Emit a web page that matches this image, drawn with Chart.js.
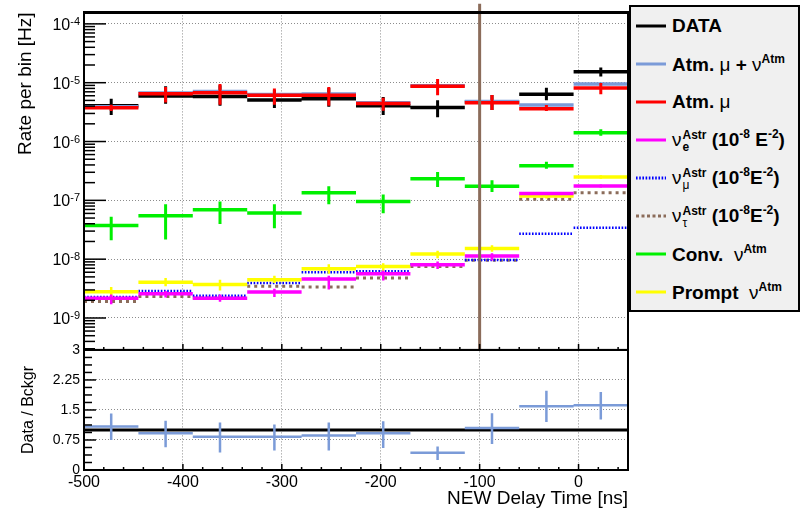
<!DOCTYPE html>
<html>
<head>
<meta charset="utf-8">
<title>Rate per bin vs delay time</title>
<script src="https://cdn.jsdelivr.net/npm/chart.js@4.4.1/dist/chart.umd.min.js"></script>
<style>
  body { margin: 0; background: #fff; }
  #box { position: relative; width: 801px; height: 510px; overflow: hidden; }
  #legend { position: absolute; left: 629px; top: 5px; width: 171px; height: 307px; box-sizing: border-box;
    background: #f0f0f0; border: 2px solid #000; color: #000;
    font: bold 19px "Liberation Sans", Arial, sans-serif; }
  .row { position: absolute; left: 0; height: 38px; display: flex; align-items: center; white-space: nowrap; }
  .row svg { margin: 0 6px 0 5px; flex: none; }
  .g { font-weight: normal; }
  .sp { font-size: 12px; vertical-align: 8px; }
  .st { display: inline-block; font-size: 12px; line-height: 12px; vertical-align: middle; margin-left: 1px; }
</style>
</head>
<body>
<div id="box">
  <canvas id="canvas" width="801" height="510"></canvas>
  <div id="legend"></div>
</div>
<script>
// bins (ns)
const binEdges = [-500, -445, -390, -335, -280, -225, -170, -115, -60, -5, 50];
const cutTime = -100;

// rates [Hz]
const dataRate  = [4.05e-6, 5.94e-6, 5.83e-6, 5.09e-6, 5.36e-6, 4.05e-6, 3.79e-6, 4.72e-6, 6.35e-6, 1.54e-5];
const dataLow   = [2.83e-6, 4.37e-6, 4.05e-6, 3.70e-6, 3.89e-6, 2.83e-6, 2.58e-6, 3.43e-6, 5.04e-6, 1.28e-5];
const dataHigh  = [5.36e-6, 8.74e-6, 9.08e-6, 7.49e-6, 8.10e-6, 5.72e-6, 5.04e-6, 6.18e-6, 8.18e-6, 1.82e-5];
const atmMuNu   = [3.89e-6, 6.67e-6, 7.07e-6, 6.30e-6, 6.42e-6, 4.54e-6, 8.91e-6, 4.78e-6, 4.16e-6, 9.55e-6];
const atmMu     = [3.75e-6, 6.50e-6, 6.75e-6, 6.11e-6, 6.11e-6, 4.42e-6, 8.74e-6, 4.54e-6, 3.61e-6, 8.10e-6];
const atmMuLow  = [3.31e-6, 4.59e-6, 4.21e-6, 4.21e-6, 4.05e-6, 3.34e-6, 6.11e-6, 3.43e-6, 3.31e-6, 6.35e-6];
const atmMuHigh = [4.20e-6, 8.41e-6, 9.55e-6, 8.00e-6, 8.41e-6, 5.57e-6, 1.16e-5, 6.18e-6, 4.16e-6, 9.93e-6];
const nuE       = [2.16e-9, 2.59e-9, 2.16e-9, 2.76e-9, 4.61e-9, 5.66e-9, 8.00e-9, 1.13e-8, 1.31e-7, 1.75e-7];
const nuELow    = [1.71e-9, 2.22e-9, 1.88e-9, 2.28e-9, 3.05e-9, 4.32e-9, 6.78e-9, 9.48e-9, 1.24e-7, 1.66e-7];
const nuEHigh   = [2.52e-9, 2.87e-9, 2.52e-9, 3.14e-9, 5.24e-9, 6.44e-9, 9.12e-9, 1.26e-8, 1.39e-7, 1.86e-7];
const nuMu      = [2.28e-9, 2.87e-9, 2.40e-9, 3.95e-9, 5.97e-9, 6.21e-9, 8.22e-9, 9.70e-9, 2.71e-8, 3.41e-8];
const nuTau     = [1.90e-9, 2.31e-9, 2.18e-9, 3.45e-9, 3.35e-9, 4.80e-9, 7.52e-9, 9.59e-9, 1.04e-7, 1.35e-7];
const convNu    = [3.73e-8, 5.48e-8, 6.91e-8, 6.08e-8, 1.35e-7, 9.55e-8, 2.32e-7, 1.74e-7, 3.86e-7, 1.41e-6];
const convLow   = [2.09e-8, 2.15e-8, 3.98e-8, 3.37e-8, 8.61e-8, 6.01e-8, 1.68e-7, 1.38e-7, 3.44e-7, 1.25e-6];
const convHigh  = [5.27e-8, 8.61e-8, 9.55e-8, 8.61e-8, 1.74e-7, 1.26e-7, 3.03e-7, 2.19e-7, 4.51e-7, 1.61e-6];
const promptNu  = [2.79e-9, 4.06e-9, 3.70e-9, 4.49e-9, 6.86e-9, 7.52e-9, 1.22e-8, 1.52e-8, 1.19e-7, 2.50e-7];
const promptLow = [2.22e-9, 3.48e-9, 2.94e-9, 3.95e-9, 5.66e-9, 6.21e-9, 1.04e-8, 1.34e-8, 1.08e-7, 2.34e-7];
const promptHigh= [3.35e-9, 4.80e-9, 4.49e-9, 5.24e-9, 8.22e-9, 8.53e-9, 1.39e-8, 1.73e-8, 1.29e-7, 2.68e-7];

// data / background
const ratio     = [1.09, 0.92, 0.83, 0.83, 0.86, 0.92, 0.43, 1.05, 1.59, 1.62];
const ratioLow  = [0.75, 0.57, 0.44, 0.49, 0.49, 0.55, 0.25, 0.65, 1.20, 1.26];
const ratioHigh = [1.41, 1.23, 1.19, 1.14, 1.19, 1.22, 0.59, 1.42, 1.98, 1.95];
const unity = 1;

// axis ranges
const yMin = 2.864e-10, yMax = 1.567e-4, yTop = 2.2e-4;
const rMin = 0, rMax = 3, rStep = 0.75;

const binCenters = binEdges.slice(0, -1).map((e, i) => (e + binEdges[i + 1]) / 2);

function steps(vals) {
  const pts = [];
  vals.forEach((v, i) => {
    pts.push({x: binEdges[i], y: v}, {x: binEdges[i + 1], y: v}, {x: binEdges[i + 1], y: null});
  });
  return pts;
}
function errs(lo, hi) {
  const pts = [];
  binCenters.forEach((c, i) => {
    pts.push({x: c, y: lo[i]}, {x: c, y: hi[i]}, {x: c, y: null});
  });
  return pts;
}
const common = {pointRadius: 0, pointHoverRadius: 0, fill: false, tension: 0, spanGaps: false, borderCapStyle: 'butt'};
function line(data, color, width, extra) {
  return Object.assign({data: data, borderColor: color, borderWidth: width, yAxisID: 'y'}, common, extra || {});
}

const BLACK = '#000000', LBLUE = '#7b9bd8', RED = '#ff0000', MAG = '#ff00ff',
      BLUE = '#0000ff', BROWN = '#8b6c5a', GREEN = '#00f000', YEL = '#ffff00';

const datasets = [
  line([{x: cutTime, y: yMin}, {x: cutTime, y: yTop}], BROWN, 3, {clip: false}),
  line(errs(ratioLow, ratioHigh), LBLUE, 2.5, {yAxisID: 'y2'}),
  line(steps(ratio), LBLUE, 2.5, {yAxisID: 'y2'}),
  line([{x: binEdges[0], y: unity}, {x: binEdges[binEdges.length - 1], y: unity}], BLACK, 3, {yAxisID: 'y2'}),
  line(errs(atmMuLow, atmMuHigh), RED, 3),
  line(steps(atmMu), RED, 3.5, {legendHtml: 'Atm. <span class="g">μ</span>', legendIndex: 2}),
  line(steps(atmMuNu), LBLUE, 3.5, {legendHtml: 'Atm. <span class="g">μ</span> + <span class="g">ν</span><span class="sp">Atm</span>', legendIndex: 1}),
  line(errs(dataLow, dataHigh), BLACK, 3),
  line(steps(dataRate), BLACK, 3.5, {legendHtml: 'DATA', legendIndex: 0}),
  line(errs(convLow, convHigh), GREEN, 3),
  line(steps(convNu), GREEN, 3.5, {legendHtml: 'Conv.&nbsp; <span class="g">ν</span><span class="sp">Atm</span>', legendIndex: 6}),
  line(errs(nuELow, nuEHigh), MAG, 2.5),
  line(steps(nuE), MAG, 3.5, {legendHtml: '<span class="g">ν</span><span class="st">Astr<br>e</span> (10<span class="sp">-8</span> E<span class="sp">-2</span>)', legendIndex: 3}),
  line(errs(promptLow, promptHigh), YEL, 2.5),
  line(steps(promptNu), YEL, 3.5, {legendHtml: 'Prompt&nbsp; <span class="g">ν</span><span class="sp">Atm</span>', legendIndex: 7}),
  line(steps(nuMu), BLUE, 2.5, {borderDash: [1.6, 1.6], legendHtml: '<span class="g">ν</span><span class="st">Astr<br><span class="g">μ</span></span> (10<span class="sp">-8</span>E<span class="sp">-2</span>)', legendIndex: 4}),
  line(steps(nuTau), BROWN, 3, {borderDash: [3, 4], legendDash: [3, 2.5], legendHtml: '<span class="g">ν</span><span class="st">Astr<br><span class="g">τ</span></span> (10<span class="sp">-8</span>E<span class="sp">-2</span>)', legendIndex: 5})
];

Chart.defaults.font.family = '"Liberation Sans", Arial, sans-serif';
Chart.defaults.color = '#000';

const GRID = '#8c8c8c', NONE = 'rgba(0,0,0,0)';

// ROOT-like frames, inner tick marks and 10^n labels
const rootAxes = {
  id: 'rootAxes',
  afterDatasetsDraw(chart) {
    const {ctx, scales: {x, y, y2}} = chart;
    const L = x.left, R = x.right;
    const seg = (x1, y1, x2, y2_) => { ctx.beginPath(); ctx.moveTo(x1, y1); ctx.lineTo(x2, y2_); ctx.stroke(); };
    ctx.save();
    ctx.strokeStyle = '#000';
    ctx.lineWidth = 1.5;
    y.ticks.forEach(t => {
      const py = y.getPixelForValue(t.value);
      seg(L, py, L + (t.decade ? 22 : 11), py);
    });
    for (let k = 0; k <= 16; k++) {
      const v = rMin + k * rStep / 4;
      const py = y2.getPixelForValue(v);
      seg(L, py, L + (k % 4 === 0 ? 12 : 8), py);
    }
    for (let v = binEdges[0]; v <= binEdges[binEdges.length - 1]; v += 20) {
      const px = x.getPixelForValue(v);
      const len = v % 100 === 0 ? 6 : 3;
      seg(px, y.bottom, px, y.bottom - len);
      seg(px, y2.bottom, px, y2.bottom - len);
    }
    ctx.lineWidth = 2;
    ctx.strokeRect(L, y.top, R - L, y.bottom - y.top);
    ctx.strokeRect(L, y2.top, R - L, y2.bottom - y2.top);
    ctx.lineWidth = 3;
    seg(L - 1, y.top, R + 1, y.top);
    // decade labels
    ctx.fillStyle = '#000';
    ctx.textAlign = 'right';
    ctx.textBaseline = 'alphabetic';
    y.ticks.filter(t => t.decade).forEach(t => {
      const py = y.getPixelForValue(t.value);
      const ex = String(Math.round(Math.log10(t.value)));
      ctx.font = '11px "Liberation Sans", Arial, sans-serif';
      const w = ctx.measureText(ex).width;
      ctx.fillText(ex, L - 4, py + 1);
      ctx.font = '16px "Liberation Sans", Arial, sans-serif';
      ctx.fillText('10', L - 4 - w, py + 6);
    });
    ctx.restore();
  }
};

const chart = new Chart(document.getElementById('canvas'), {
  type: 'line',
  data: {datasets: datasets},
  plugins: [rootAxes],
  options: {
    responsive: false,
    animation: false,
    events: [],
    layout: {padding: {left: 0, right: 173, top: 5, bottom: 0}},
    plugins: {legend: {display: false}, tooltip: {enabled: false}},
    scales: {
      x: {
        type: 'linear', min: binEdges[0], max: binEdges[binEdges.length - 1],
        ticks: {stepSize: 100, includeBounds: false, maxRotation: 0, padding: 3, font: {size: 16}, color: '#000',
                callback: v => String(v)},
        grid: {drawTicks: false, lineWidth: 1, color: c => (c.tick && c.tick.value === binEdges[0]) ? NONE : GRID},
        border: {display: false, dash: [1, 2]},
        title: {display: true, text: 'NEW Delay Time [ns]', align: 'end', font: {size: 19}, color: '#000',
                padding: {top: 0, bottom: 0}},
        afterFit: s => { s.height = 40; }
      },
      y: {
        type: 'logarithmic', position: 'left', stack: 'panels', stackWeight: 343, weight: 1,
        min: yMin, max: yMax,
        afterBuildTicks: s => {
          const t = [];
          for (let e = -10; e <= -3; e++) {
            for (let m = 1; m < 10; m++) {
              const v = m * Math.pow(10, e);
              if (v >= s.min && v <= s.max) t.push({value: v, decade: m === 1});
            }
          }
          s.ticks = t;
        },
        ticks: {display: false},
        grid: {drawTicks: false, lineWidth: 1, color: c => (c.tick && c.tick.decade) ? GRID : NONE},
        border: {display: false, dash: [1, 2]},
        title: {display: true, text: 'Rate per bin [Hz]', align: 'end', font: {size: 19}, color: '#000',
                padding: {top: 14, bottom: 0}},
        afterFit: s => { s.width = 84; }
      },
      y2: {
        type: 'linear', position: 'left', stack: 'panels', stackWeight: 122, weight: 0,
        min: rMin, max: rMax,
        ticks: {stepSize: rStep, autoSkip: false, padding: 4, font: {size: 14}, color: '#000', callback: v => String(v)},
        grid: {drawTicks: false, lineWidth: 1, color: c => (c.tick && (c.tick.value === rMin || c.tick.value === rMax)) ? NONE : GRID},
        border: {display: false, dash: [1, 2]},
        title: {display: true, text: 'Data / Bckgr', font: {size: 16}, color: '#000', padding: {top: 19, bottom: 0}},
        afterFit: s => { s.width = 84; }
      }
    }
  }
});

// legend built from the datasets
const legendEl = document.getElementById('legend');
chart.data.datasets.filter(d => d.legendHtml)
  .sort((a, b) => a.legendIndex - b.legendIndex)
  .forEach((d, i) => {
    const dash = (d.legendDash || d.borderDash || []).join(',');
    const row = document.createElement('div');
    row.className = 'row';
    row.style.top = (38 * i) + 'px';
    row.innerHTML = '<svg width="30" height="6"><line x1="0" y1="3" x2="30" y2="3" stroke="' + d.borderColor +
      '" stroke-width="3"' + (dash ? ' stroke-dasharray="' + dash + '"' : '') + '/></svg><span>' + d.legendHtml + '</span>';
    legendEl.appendChild(row);
  });
</script>
</body>
</html>
